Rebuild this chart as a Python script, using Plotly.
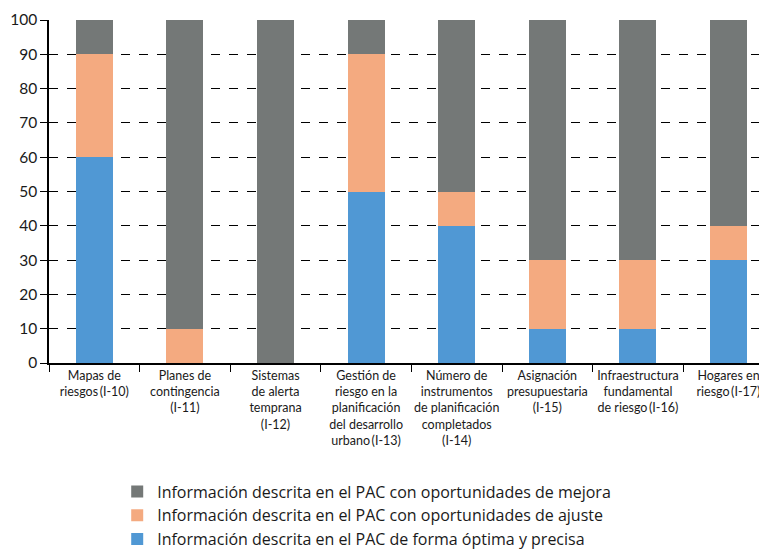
import plotly.graph_objects as go

categories = [
    "Mapas de<br>riesgos\u2009(I-10)",
    "Planes de<br>contingencia<br>(I-11)",
    "Sistemas<br>de alerta<br>temprana<br>(I-12)",
    "Gestión de<br>riesgo en la<br>planificación<br>del desarrollo<br>urbano\u2009(I-13)",
    "Número de<br>instrumentos<br>de planificación<br>completados<br>(I-14)",
    "Asignación<br>presupuestaria<br>(I-15)",
    "Infraestructura<br>fundamental<br>de riesgo\u2009(I-16)",
    "Hogares en<br>riesgo\u2009(I-17)",
]
optima = [60, 0, 0, 50, 40, 10, 10, 30]
ajuste = [30, 10, 0, 40, 10, 20, 20, 10]
mejora = [10, 90, 100, 10, 50, 70, 70, 60]
y_ticks = [0, 10, 20, 30, 40, 50, 60, 70, 80, 90, 100]

names = [
    "Información descrita en el PAC de forma óptima y precisa",
    "Información descrita en el PAC con oportunidades de ajuste",
    "Información descrita en el PAC con oportunidades de mejora",
]
colors = ["#5098D4", "#F4AA80", "#747877"]

fig = go.Figure()
for i, (vals, name, col) in enumerate(zip([optima, ajuste, mejora], names, colors)):
    fig.add_trace(go.Bar(
        x=categories, y=vals, name=name, marker_color=col,
        marker_line_width=0, width=0.41, legendgroup=f"g{i}",
    ))

fig.update_layout(
    barmode="stack",
    width=759, height=546,
    margin=dict(l=41, r=0, t=12, b=191, autoexpand=False),
    plot_bgcolor="white", paper_bgcolor="white",
    font=dict(family="Lato, Open Sans, sans-serif", size=13, color="#1a1a1a"),
    showlegend=True,
    legend=dict(
        orientation="v", traceorder="reversed", x=0.095, xanchor="left",
        y=-0.325, yanchor="top",
        font=dict(family="Open Sans, sans-serif", size=16, color="#1a1a1a"),
        tracegroupgap=8, itemwidth=30,
    ),
    bargap=0.59,
)
fig.update_xaxes(
    type="category", range=[-0.5, 7.425], tickson="boundaries",
    ticks="outside", ticklen=7, tickcolor="black", tickwidth=1,
    showline=True, linecolor="black", linewidth=1.5, showgrid=False,
    tickfont=dict(size=12.5), tickangle=0, automargin=False,
)
fig.update_yaxes(
    range=[0, 100], tickvals=y_ticks, ticks="outside", ticklen=7,
    tickcolor="black", showline=True, linecolor="black", linewidth=1.5,
    showgrid=True, gridcolor="black", griddash="dash", gridwidth=1,
    zeroline=False, tickfont=dict(size=15.5), automargin=False,
)
fig.write_html("out.html")
